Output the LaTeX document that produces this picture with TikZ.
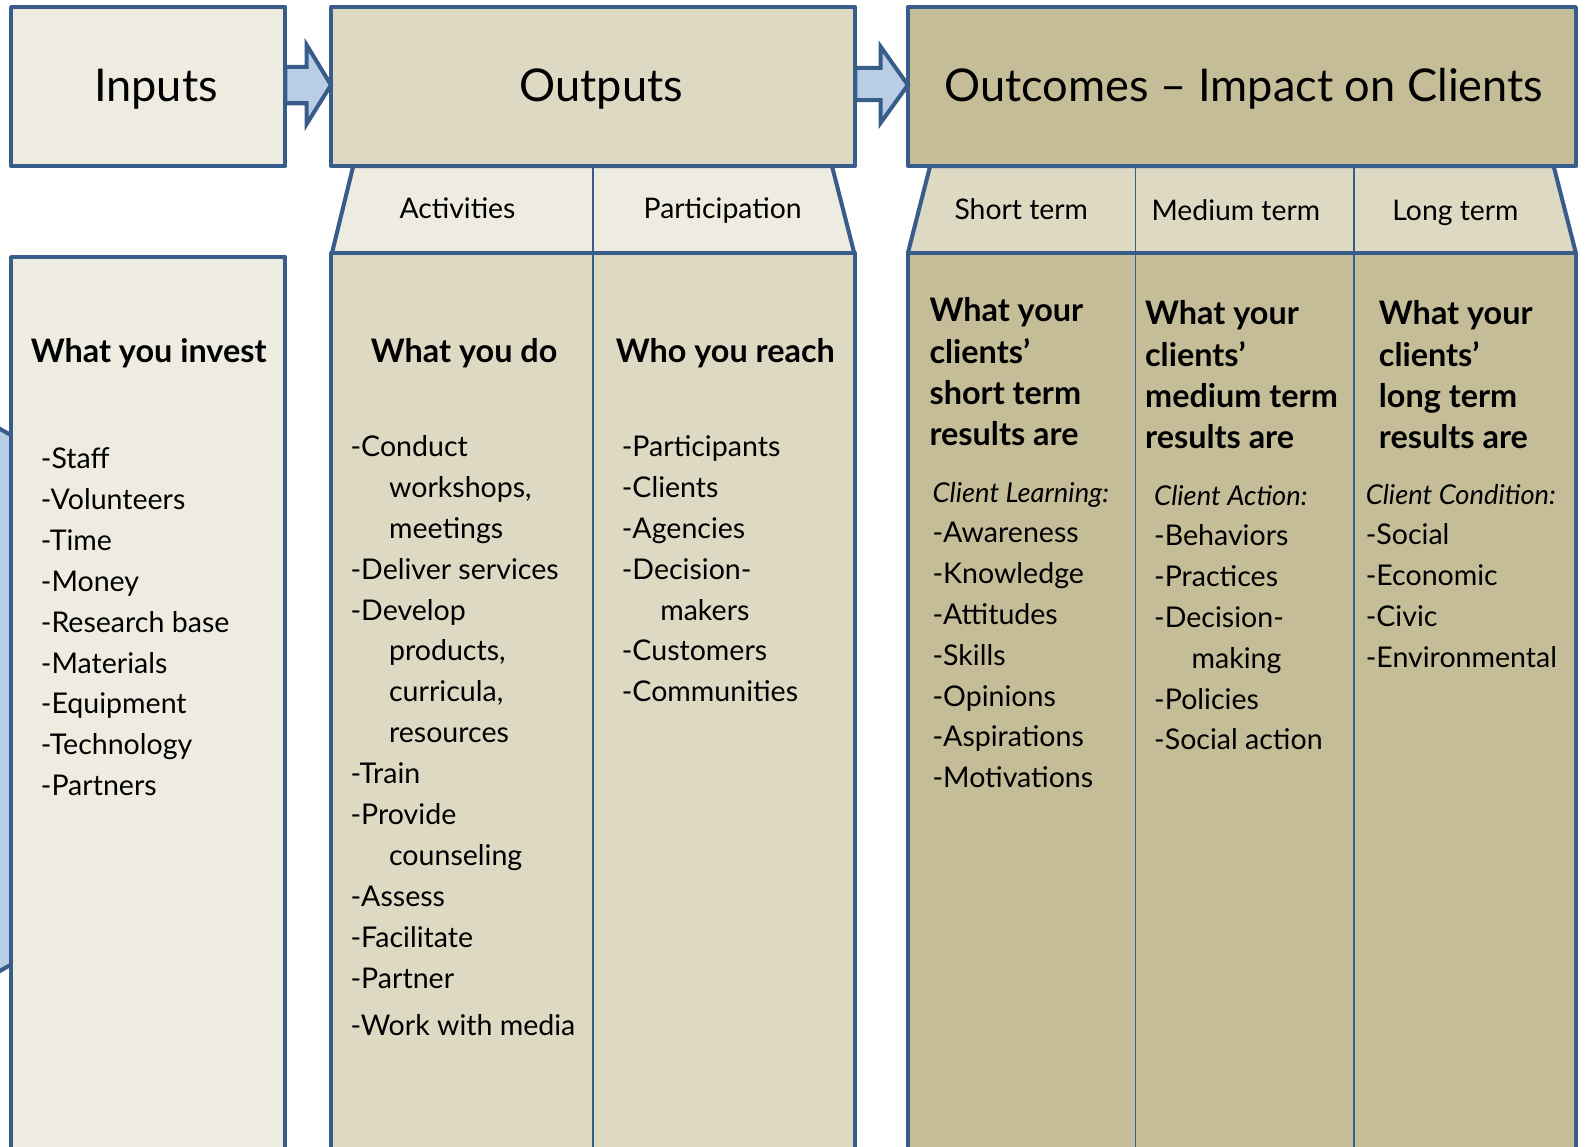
\documentclass[tikz,border=0pt]{standalone}
\usepackage{fontspec}
\setmainfont{Lato}
\usetikzlibrary{calc}
\definecolor{edge}{HTML}{385D8A}
\definecolor{tanA}{HTML}{EEECE1}
\definecolor{tanB}{HTML}{DDD9C3}
\definecolor{tanC}{HTML}{C4BD97}
\definecolor{arrowfill}{HTML}{B9CDE5}
\begin{document}
\begin{tikzpicture}[x=0.5pt,y=-0.5pt,
  frame/.style={draw=edge, line width=2pt, line join=round},
  divider/.style={draw=edge, line width=0.8pt},
  title/.style={font=\fontsize{22.3}{26}\selectfont, anchor=base, inner sep=0pt},
  colhead/.style={font=\fontsize{14}{17}\selectfont, anchor=base, inner sep=0pt},
  lead/.style={font=\fontsize{16}{19}\selectfont\bfseries, anchor=base west, inner sep=0pt},
  item/.style={font=\fontsize{14.1}{17}\selectfont, anchor=base west, inner sep=0pt},
  tag/.style={font=\fontsize{13.5}{16}\selectfont\itshape, anchor=base west, inner sep=0pt},
  blockarrow/.style={fill=arrowfill, draw=edge, line width=2pt, line join=miter}]

\clip (0,0) rectangle (1568,1133);

% block arrow coming in from the left edge, mostly hidden by the inputs column
\draw[blockarrow] (-40,401) -- (11,430) -- (11,953) -- (-40,982) -- cycle;

% column headers (trapezoids) and their dividers
\draw[frame, fill=tanA] (349,164) -- (822,164) -- (844,250) -- (328,250) -- cycle;
\draw[frame, fill=tanB] (919,164) -- (1535,164) -- (1557,250) -- (897,250) -- cycle;

% column bodies
\draw[frame, fill=tanA] (11,254) rectangle (282,1136);
\draw[frame, fill=tanB] (327,250) rectangle (845,1136);
\draw[frame, fill=tanC] (897,250) rectangle (1557,1136);

\draw[divider] (586,164) -- (586,1136);
\draw[divider] (1122,164) -- (1122,1136);
\draw[divider] (1338,164) -- (1338,1136);

% top title boxes
\draw[frame, fill=tanA] (11,7) rectangle (282,164);
\draw[frame, fill=tanB] (327,7) rectangle (845,164);
\draw[frame, fill=tanC] (897,7) rectangle (1557,164);

\coordinate (inR) at (282,84);
\coordinate (outL) at (327,84);
\coordinate (outR) at (845,84);
\coordinate (ocL) at (897,84);

% block arrows between the title boxes
\draw[blockarrow] ($(inR)+(0,-18)$) -- ($(inR)+(21,-18)$) -- ($(inR)+(21,-39.5)$)
  -- (outL) -- ($(inR)+(21,38.5)$) -- ($(inR)+(21,18)$) -- ($(inR)+(0,18)$) -- cycle;
\draw[blockarrow] ($(outR)+(0,-17)$) -- ($(outR)+(25,-17)$) -- ($(outR)+(25,-38)$)
  -- (ocL) -- ($(outR)+(25,37.5)$) -- ($(outR)+(25,15)$) -- ($(outR)+(0,15)$) -- cycle;

% titles
\node[title] (tIn)  at (154,100) {Inputs};
\node[title] (tOut) at (594,100) {Outputs};
\node[title] (tOc)  at (1229,100) {Outcomes – Impact on Clients};

% sub-column headings
\node[colhead] (hAct)  at (452,216) {Activities};
\node[colhead] (hPart) at (714,216) {Participation};
\node[colhead] (hSt)   at (1009,217) {Short term};
\node[colhead] (hMed)  at (1221,218) {Medium term};
\node[colhead] (hLong) at (1438,218) {Long term};

% Inputs column
\node[lead] (qIn) at (30,358) {What you invest};
\foreach \txt [count=\k from 0] in {-Staff,-Volunteers,-Time,-Money,-Research base,-Materials,-Equipment,-Technology,-Partners}
  \node[item] (in\k) at (40,463+\k*40.4) {\txt};

% Activities column
\node[lead] (qAct) at (366,358) {What you do};
\foreach \txt/\dx [count=\k from 0] in {-Conduct/0,{workshops,}/38,meetings/38,-Deliver services/0,-Develop/0,{products,}/38,{curricula,}/38,resources/38,-Train/0,-Provide/0,counseling/38,-Assess/0,-Facilitate/0,-Partner/0}
  \node[item] (act\k) at (346+\dx,451+\k*40.4) {\txt};
\node[item] (actLast) at (346,1023) {-Work with media};

% Participation column
\node[lead] (qPart) at (608,358) {Who you reach};
\foreach \txt/\dx [count=\k from 0] in {-Participants/0,-Clients/0,-Agencies/0,-Decision-/0,makers/38,-Customers/0,-Communities/0}
  \node[item] (part\k) at (614+\dx,451+\k*40.4) {\txt};

% Short term column
\foreach \txt [count=\k from 0] in {What your,clients’,short term,results are}
  \node[lead] (qSt\k) at (918,318+\k*40.7) {\txt};
\node[tag] (tagSt) at (921,496) {Client Learning:};
\foreach \txt [count=\k from 0] in {-Awareness,-Knowledge,-Attitudes,-Skills,-Opinions,-Aspirations,-Motivations}
  \node[item] (st\k) at (921,536+\k*40.4) {\txt};

% Medium term column
\foreach \txt [count=\k from 0] in {What your,clients’,medium term,results are}
  \node[lead] (qMed\k) at (1131,321+\k*40.7) {\txt};
\node[tag] (tagMed) at (1140,499) {Client Action:};
\foreach \txt/\dx [count=\k from 0] in {-Behaviors/0,-Practices/0,-Decision-/0,making/37,-Policies/0,-Social action/0}
  \node[item] (med\k) at (1140+\dx,539+\k*40.4) {\txt};

% Long term column
\foreach \txt [count=\k from 0] in {What your,clients’,long term,results are}
  \node[lead] (qLong\k) at (1362,321+\k*40.7) {\txt};
\node[tag] (tagLong) at (1349,498) {Client Condition:};
\foreach \txt [count=\k from 0] in {-Social,-Economic,-Civic,-Environmental}
  \node[item] (long\k) at (1349,538+\k*40.4) {\txt};

\end{tikzpicture}
\end{document}
